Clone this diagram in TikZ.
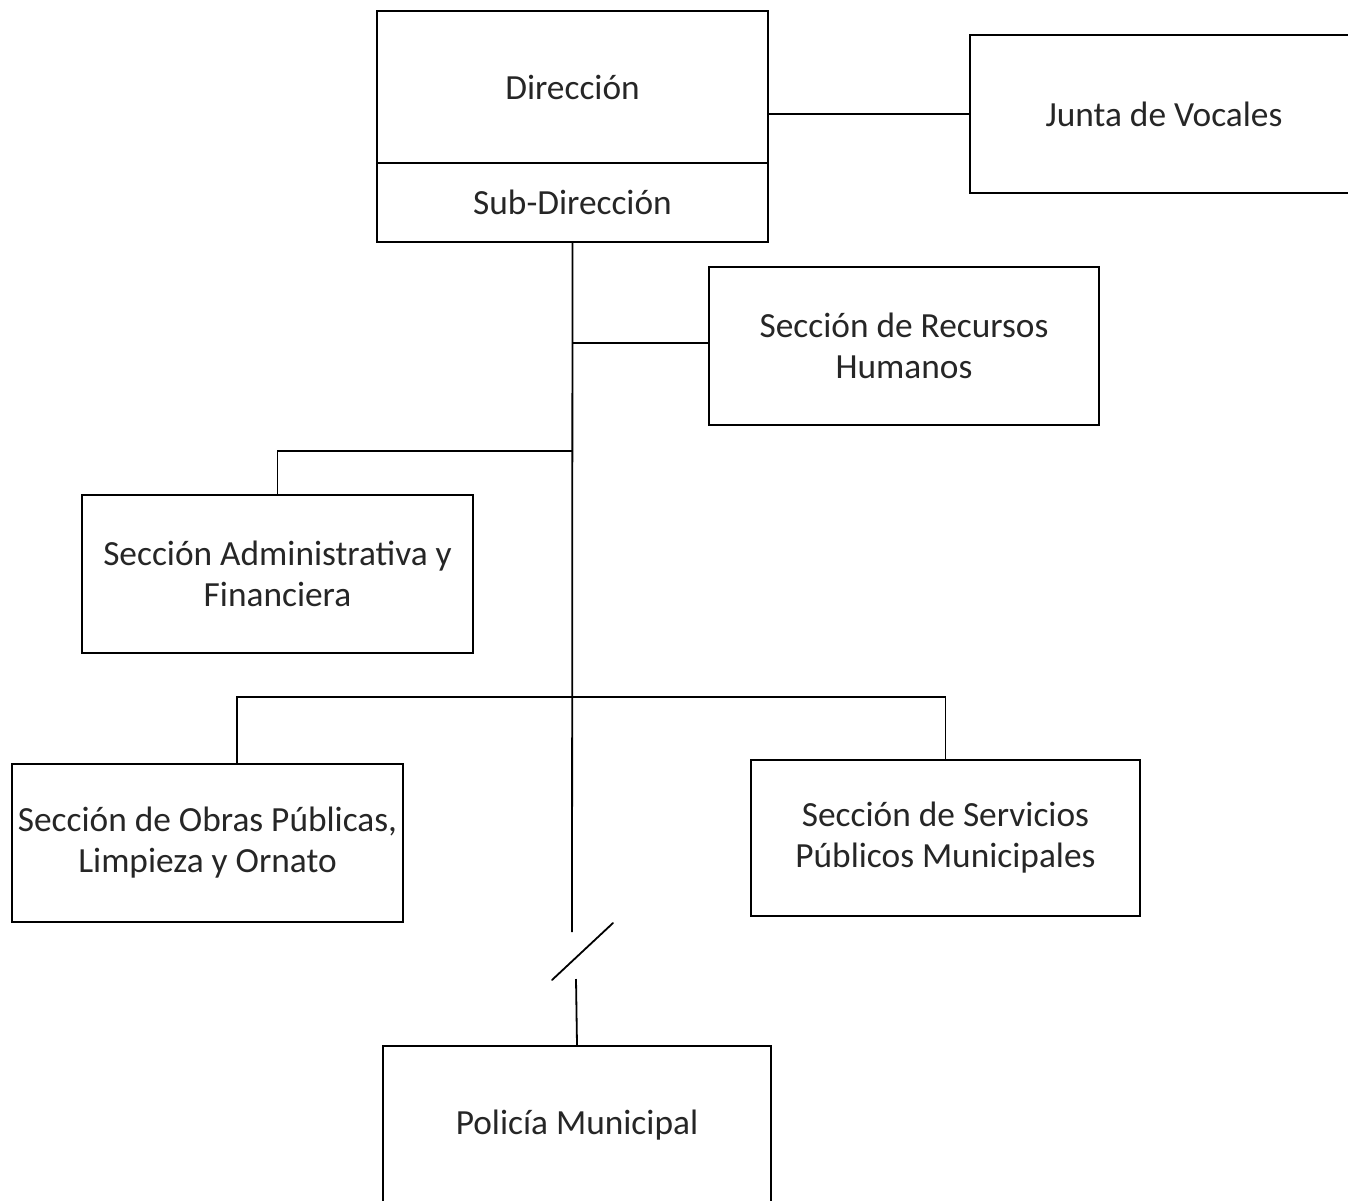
\documentclass[tikz,border=0pt]{standalone}
\usepackage{fontspec}
\setmainfont{Carlito}
\begin{document}
\begin{tikzpicture}[x=0.75pt,y=-0.75pt,
  box/.style={draw=black, line width=1.35pt, fill=white, inner sep=0pt, align=center,
    font=\fontsize{26.5}{30.75}\selectfont, text=black!85},
  conn/.style={draw=black, line width=1.35pt}]
\useasboundingbox (0,0) rectangle (1348,1201);
\clip (0,0) rectangle (1348,1201);
% nodes
\node[box, minimum width=293.25pt, minimum height=114pt] (dir) at (572.5,87) {Dirección};
\node[box, minimum width=293.25pt, minimum height=59.25pt] (subdir) at (572.5,202.5) {Sub-Dirección};
\node[box, minimum width=291pt, minimum height=118.5pt] (junta) at (1164,114) {Junta de Vocales};
\node[box, minimum width=292.5pt, minimum height=118.5pt] (rrhh) at (904,346) {Sección de Recursos\\Humanos};
\node[box, minimum width=293.25pt, minimum height=118.5pt] (admin) at (277.5,574) {Sección Administrativa y\\Financiera};
\node[box, minimum width=293.25pt, minimum height=118.5pt] (obras) at (207.5,843) {Sección de Obras Públicas,\\Limpieza y Ornato};
\node[box, minimum width=291.75pt, minimum height=117pt] (serv) at (945.5,838) {Sección de Servicios\\Públicos Municipales};
\node[box, minimum width=291pt, minimum height=118.5pt] (pol) at (577,1125) {Policía Municipal};
% coordinates
\coordinate (brkA) at (572,932);
\coordinate (brkB) at (576,979);
\coordinate (slA) at (552,980);
\coordinate (slB) at (613,923);
\coordinate (jadm) at (572,451);
\coordinate (jlow) at (572,697);
\coordinate (obtop) at (237,764);
\coordinate (rrin) at ([yshift=2.25pt]rrhh.west);
% connectors
\draw[conn] (junta.west) -- (junta.west -| dir.east);
\draw[conn] (subdir.south) -- (brkA);
\draw[conn] (rrin) -- (rrin -| subdir.south);
\draw[conn] (jadm) -| (admin.north);
\draw[conn] (obtop) |- (jlow) -| (serv.north);
\draw[conn, line cap=round] (slA) -- (slB);
\draw[conn] (brkB) -- (pol.north);
\end{tikzpicture}
\end{document}
